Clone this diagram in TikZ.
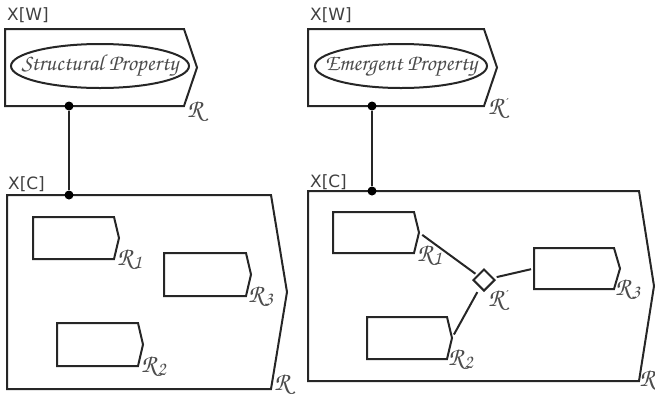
\documentclass[tikz,border=0pt]{standalone}
\usepackage{fontspec}
\newfontfamily\labelfont{DejaVu Sans}
\newfontfamily\chorusfont{TeX Gyre Chorus}
\usetikzlibrary{shapes.geometric}
\tikzset{
  boxline/.style={draw=black!85, line width=2bp, line join=miter},
  link/.style={draw=black!85, line width=2bp},
  dotmark/.style={circle, fill=black, inner sep=0pt, minimum size=9bp},
  xlabel/.style={font=\labelfont\fontsize{17}{17}\selectfont, text=black!75, inner sep=0pt, anchor=base west},
  rlabel/.style={font=\chorusfont\fontsize{26}{26}\selectfont, text=black!70, inner sep=0pt, anchor=north west},
  prop/.style={ellipse, draw=black!85, line width=2bp, inner sep=0pt},
  proptext/.style={inner sep=0pt, font=\chorusfont\fontsize{23}{23}\selectfont, text=black!70},
  dia/.style={diamond, draw=black!85, line width=2bp, inner sep=0pt, minimum width=22bp, minimum height=22bp}
}
% name, x1, y1, x2, y2, tip
\newcommand\tagbox[6]{%
  \draw[boxline] (#2,#3) -- (#4,#3) -- ({#4+#6},{(#3+#5)/2}) -- (#4,#5) -- (#2,#5) -- cycle;
  \coordinate (#1-nw) at (#2,#3);
  \coordinate (#1-w) at (#2,{(#3+#5)/2});
  \coordinate (#1-tip) at ({#4+#6},{(#3+#5)/2});
  \coordinate (#1-se) at (#4,#5);
}
\newcommand\Rsub[1]{R\kern0.5bp\raisebox{-3bp}{\fontsize{20}{20}\selectfont #1}}
\newcommand\Rpr{R\kern1bp\raisebox{8bp}{\labelfont\fontsize{10}{10}\selectfont\textasciiacute}}
\begin{document}
\begin{tikzpicture}[x=1bp,y=-1bp]
\useasboundingbox (0,0) rectangle (655,399);
% ---------- left half ----------
\tagbox{LW}{5}{29}{184}{106}{13}
\tagbox{LC}{7}{195}{271}{389}{16}
\tagbox{La}{33}{217}{114}{259}{5}
\tagbox{Lc}{164}{253}{246}{296}{5}
\tagbox{Lb}{57}{323}{138}{366}{5}
\node[xlabel] (lxw) at (7,20) {X[W]};
\node[xlabel] (lxc) at (8,189) {X[C]};
\node[prop, minimum width=178bp, minimum height=44bp] (lprop) at (100,66) {};
\node[proptext] (lpropt) at (lprop.center) {Structural Property};
\node[dotmark] (ld1) at (69,106) {};
\node[dotmark] (ld2) at (69,195) {};
\draw[link] (ld1) -- (ld2);
\node[rlabel] (lrw) at (187,101) {R};
\node[rlabel] (lrc) at (274,374) {R};
\node[rlabel] (lra) at (117,249) {\Rsub{1}};
\node[rlabel] (lrc3) at (248,286) {\Rsub{3}};
\node[rlabel] (lrb) at (141,356) {\Rsub{2}};
% ---------- right half ----------
\tagbox{RW}{308}{29}{484}{106}{13}
\tagbox{RC}{308}{191}{639}{381}{15}
\tagbox{Ra}{333}{212}{414}{253}{5}
\tagbox{Rc}{534}{248}{614}{289}{6}
\tagbox{Rb}{367}{317}{447}{359}{5}
\node[xlabel] (rxw) at (310,20) {X[W]};
\node[xlabel] (rxc) at (310,187) {X[C]};
\node[prop, minimum width=172bp, minimum height=44bp] (rprop) at (401,66) {};
\node[proptext] (rpropt) at (rprop.center) {Emergent Property};
\node[dotmark] (rd1) at (372,106) {};
\node[dotmark] (rd2) at (372,191) {};
\draw[link] (rd1) -- (rd2);
\node[dia] (dm) at (484,280) {};
\draw[link, shorten <=4bp, shorten >=2bp] (Ra-tip) -- (dm);
\draw[link, shorten <=3bp, shorten >=3bp] (dm) -- (Rc-w);
\draw[link, shorten <=5bp, shorten >=4bp] (dm) -- (Rb-tip);
\node[rlabel] (rrw) at (488,98) {\Rpr};
\node[rlabel] (rrd) at (488,290) {\Rpr};
\node[rlabel, anchor=north east] (rrc) at (655,370) {R};
\node[rlabel] (rra) at (417,245) {\Rsub{1}};
\node[rlabel] (rrc3) at (615,279) {\Rsub{3}};
\node[rlabel] (rrb) at (448,349) {\Rsub{2}};
\end{tikzpicture}
\end{document}
